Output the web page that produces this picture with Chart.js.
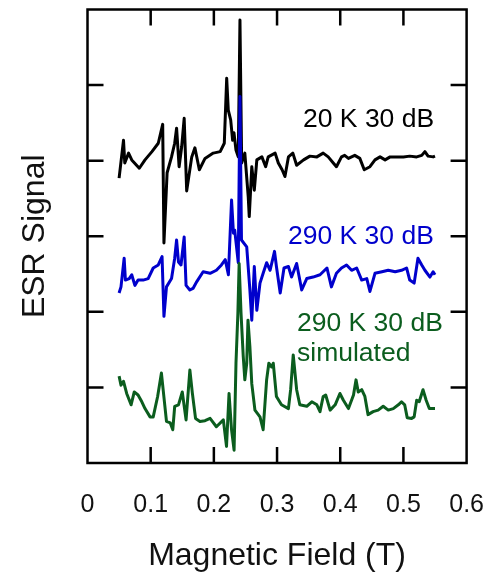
<!DOCTYPE html>
<html>
<head>
<meta charset="utf-8">
<script src="https://cdn.jsdelivr.net/npm/chart.js@4"></script>
<style>
  html, body { margin: 0; padding: 0; background: #fff; }
</style>
</head>
<body>
<canvas id="esrChart" width="488" height="581"></canvas>
<script>
// [field (T), signal (a.u.)]
const black20K = [
  [0.050,3.77],[0.057,4.27],[0.059,3.97],[0.065,4.10],[0.070,4.01],[0.082,3.90],[0.091,4.01],[0.102,4.12],
  [0.112,4.23],[0.119,4.48],[0.121,2.91],[0.126,3.84],[0.133,4.05],[0.138,4.23],[0.141,4.43],[0.145,3.92],
  [0.149,4.18],[0.153,4.56],[0.157,3.60],[0.165,4.05],[0.170,4.17],[0.177,3.88],[0.186,4.03],[0.199,4.10],
  [0.210,4.12],[0.2165,4.23],[0.2203,5.09],[0.2228,4.67],[0.2266,4.54],[0.2297,4.27],[0.2318,4.37],[0.235,4.14],
  [0.2386,4.05],[0.2413,5.86],[0.244,3.97],[0.249,4.10],[0.2544,3.52],[0.256,3.26],[0.260,3.92],[0.264,3.61],
  [0.268,4.01],[0.276,4.05],[0.282,3.92],[0.286,4.05],[0.297,4.10],[0.302,3.97],[0.308,3.88],[0.3125,3.79],
  [0.318,4.05],[0.325,4.10],[0.331,3.94],[0.342,4.01],[0.352,4.06],[0.363,4.05],[0.373,4.10],[0.381,4.05],
  [0.389,3.97],[0.394,3.92],[0.402,4.05],[0.407,4.07],[0.413,4.03],[0.423,4.07],[0.431,4.03],[0.438,3.88],
  [0.447,3.92],[0.455,4.01],[0.463,4.05],[0.471,4.01],[0.479,4.05],[0.489,4.05],[0.500,4.05],[0.510,4.06],
  [0.521,4.05],[0.529,4.07],[0.534,4.12],[0.539,4.06],[0.547,4.05],[0.550,4.06]
];
const blue290K = [
  [0.050,2.25],[0.053,2.33],[0.058,2.71],[0.060,2.42],[0.066,2.44],[0.070,2.49],[0.075,2.35],[0.080,2.42],
  [0.088,2.42],[0.096,2.44],[0.104,2.58],[0.112,2.62],[0.118,2.73],[0.121,1.94],[0.125,2.33],[0.133,2.44],
  [0.138,2.71],[0.141,2.95],[0.144,2.66],[0.148,2.62],[0.153,2.99],[0.156,2.35],[0.162,2.29],[0.167,2.31],
  [0.173,2.40],[0.183,2.53],[0.194,2.51],[0.204,2.55],[0.212,2.62],[0.218,2.69],[0.223,2.49],[0.228,3.48],
  [0.231,3.04],[0.233,3.08],[0.2386,2.65],[0.2413,4.85],[0.2437,2.95],[0.252,2.86],[0.257,2.29],[0.260,1.89],
  [0.264,2.60],[0.268,2.02],[0.273,2.38],[0.278,2.51],[0.2835,2.65],[0.289,2.55],[0.296,2.80],[0.299,2.60],
  [0.305,2.25],[0.311,2.58],[0.318,2.60],[0.323,2.46],[0.331,2.64],[0.339,2.29],[0.347,2.44],[0.357,2.46],
  [0.368,2.49],[0.379,2.58],[0.386,2.33],[0.394,2.51],[0.402,2.58],[0.410,2.62],[0.418,2.55],[0.426,2.58],
  [0.434,2.42],[0.442,2.44],[0.447,2.27],[0.455,2.51],[0.466,2.53],[0.476,2.55],[0.487,2.53],[0.497,2.55],
  [0.505,2.58],[0.510,2.42],[0.517,2.38],[0.523,2.71],[0.529,2.62],[0.534,2.55],[0.542,2.46],[0.547,2.53],
  [0.550,2.49]
];
const green290Ksim = [
  [0.050,1.15],[0.053,1.03],[0.057,1.08],[0.062,0.92],[0.069,0.77],[0.074,0.94],[0.080,0.90],[0.086,0.81],
  [0.091,0.72],[0.099,0.61],[0.104,0.61],[0.111,0.88],[0.117,1.19],[0.122,0.79],[0.125,0.55],[0.131,0.53],
  [0.135,0.44],[0.138,0.75],[0.144,0.77],[0.150,0.94],[0.156,0.57],[0.162,1.23],[0.166,0.92],[0.171,0.59],
  [0.178,0.55],[0.186,0.56],[0.194,0.59],[0.204,0.48],[0.215,0.57],[0.220,0.22],[0.224,0.92],[0.228,0.44],
  [0.232,0.17],[0.235,1.32],[0.238,1.98],[0.240,2.64],[0.243,1.98],[0.2465,1.41],[0.249,1.10],[0.252,1.32],
  [0.254,1.89],[0.257,1.54],[0.260,1.05],[0.265,0.70],[0.273,0.61],[0.278,0.44],[0.2835,1.10],[0.287,1.32],
  [0.2915,1.27],[0.294,1.32],[0.299,0.88],[0.307,0.77],[0.318,0.72],[0.3215,0.97],[0.3256,1.43],[0.331,0.97],
  [0.336,0.77],[0.347,0.75],[0.355,0.81],[0.363,0.77],[0.368,0.68],[0.373,0.88],[0.377,0.90],[0.384,0.70],
  [0.392,0.77],[0.3995,0.92],[0.405,0.83],[0.413,0.72],[0.421,0.90],[0.425,1.10],[0.4285,0.94],[0.434,0.97],
  [0.439,0.88],[0.444,0.64],[0.452,0.68],[0.460,0.70],[0.468,0.75],[0.476,0.70],[0.484,0.72],[0.492,0.77],
  [0.497,0.81],[0.502,0.77],[0.506,0.60],[0.513,0.59],[0.517,0.61],[0.521,0.83],[0.525,0.81],[0.531,0.97],
  [0.536,0.83],[0.541,0.72],[0.550,0.72]
];
const xTickLabels = ['0', '0.1', '0.2', '0.3', '0.4', '0.5', '0.6'];
const seriesLabels = ['20 K 30 dB', '290 K 30 dB', '290 K 30 dB', 'simulated'];

const FONT = '"Liberation Sans", Arial, sans-serif';
const BLACK = '#000000', BLUE = '#0000cc', GREEN = '#0b5d1e';

const toPoints = arr => arr.map(p => ({ x: p[0], y: p[1] }));

// box, inward ticks and in-plot labels
const framePlugin = {
    id: 'frame',
    afterDraw(chart) {
        const { ctx, chartArea: a, scales: { x, y } } = chart;
        const len = 16;
        ctx.save();
        ctx.strokeStyle = '#000';
        ctx.lineWidth = 2.5;
        ctx.strokeRect(a.left, a.top, a.right - a.left, a.bottom - a.top);
        ctx.beginPath();
        x.ticks.slice(1, -1).forEach(t => {
            const px = x.getPixelForValue(t.value);
            ctx.moveTo(px, a.bottom); ctx.lineTo(px, a.bottom - len);
            ctx.moveTo(px, a.top); ctx.lineTo(px, a.top + len);
        });
        y.ticks.slice(1, -1).forEach(t => {
            const py = y.getPixelForValue(t.value);
            ctx.moveTo(a.left, py); ctx.lineTo(a.left + len, py);
            ctx.moveTo(a.right, py); ctx.lineTo(a.right - len, py);
        });
        ctx.stroke();

        ctx.font = '26.5px ' + FONT;
        ctx.textAlign = 'left';
        ctx.textBaseline = 'alphabetic';
        ctx.fillStyle = BLACK;
        ctx.fillText(seriesLabels[0], 303, 127);
        ctx.fillStyle = BLUE;
        ctx.fillText(seriesLabels[1], 288, 244);
        ctx.fillStyle = GREEN;
        ctx.fillText(seriesLabels[2], 297, 331);
        ctx.fillText(seriesLabels[3], 297, 361);
        ctx.restore();
    }
};

document.addEventListener("DOMContentLoaded", () => {
    const canvas = document.getElementById("esrChart");

    new Chart(canvas, {
        type: 'line',
        data: {
            datasets: [
                { label: seriesLabels[2], data: toPoints(green290Ksim), borderColor: GREEN, order: 0 },
                { label: seriesLabels[1], data: toPoints(blue290K), borderColor: BLUE, order: 1 },
                { label: seriesLabels[0], data: toPoints(black20K), borderColor: BLACK, order: 2 }
            ]
        },
        options: {
            responsive: false,
            animation: false,
            layout: { padding: { left: 0, right: 21.4, top: 9.5, bottom: 0 } },
            elements: {
                point: { radius: 0 },
                line: { borderWidth: 3, tension: 0, fill: false, borderJoinStyle: 'round' }
            },
            plugins: {
                legend: { display: false },
                tooltip: { enabled: false }
            },
            scales: {
                x: {
                    type: 'linear',
                    min: 0,
                    max: 0.6,
                    afterFit: s => {
                        s.height = 118;
                        s.paddingLeft = 0;
                        s.paddingRight = 0;
                    },
                    grid: { display: false, drawTicks: false },
                    border: { display: false },
                    ticks: {
                        stepSize: 0.1,
                        padding: 27,
                        maxRotation: 0,
                        autoSkip: false,
                        color: '#111',
                        font: { size: 25, family: FONT },
                        callback: (v, i) => xTickLabels[i]
                    },
                    title: {
                        display: true,
                        text: 'Magnetic Field (T)',
                        color: '#111',
                        font: { size: 32, family: FONT },
                        padding: { top: 0, bottom: 5.8 }
                    }
                },
                y: {
                    min: 0,
                    max: 6,
                    afterFit: s => { s.width = 87.5; },
                    grid: { display: false, drawTicks: false },
                    border: { display: false },
                    ticks: { display: false, stepSize: 1 },
                    title: {
                        display: true,
                        text: 'ESR Signal',
                        color: '#111',
                        font: { size: 32, family: FONT },
                        padding: { top: 15.8, bottom: 0 }
                    }
                }
            }
        },
        plugins: [framePlugin]
    });
});
</script>
</body>
</html>
